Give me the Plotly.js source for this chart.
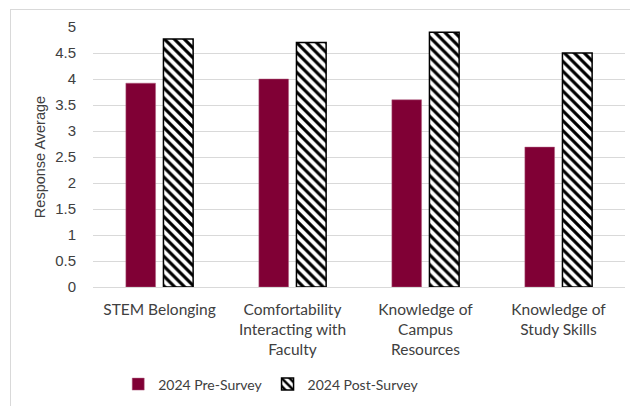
<!DOCTYPE html>
<html>
<head>
<meta charset="utf-8">
<script src="https://cdn.plot.ly/plotly-3.0.1.min.js"></script>
<style>
  html, body { margin: 0; padding: 0; background: #ffffff; overflow: hidden; }
  #frame { position: absolute; left: 10px; top: 9px; width: 700px; height: 500px; border: 1px solid #d9d9d9; }
  #chart { position: absolute; left: 0; top: 0; width: 630px; height: 406px; }
</style>
</head>
<body>
<div id="frame"></div>
<div id="chart"></div>
<script>
const categories = [
  "STEM Belonging",
  "Comfortability<br>Interacting with<br>Faculty",
  "Knowledge of<br>Campus<br>Resources",
  "Knowledge of<br>Study Skills"
];
const preSurvey = [3.92, 4.0, 3.6, 2.69];
const postSurvey = [4.77, 4.7, 4.9, 4.5];
const yTicks = [0, 0.5, 1, 1.5, 2, 2.5, 3, 3.5, 4, 4.5, 5];

const traces = [
  {
    type: "bar", name: "2024 Pre-Survey", x: categories, y: preSurvey,
    marker: { color: "#800035", line: { color: "#b06080", width: 0.5 } },
    hoverinfo: "y"
  },
  {
    type: "bar", name: "2024 Post-Survey", x: categories, y: postSurvey,
    marker: {
      color: "#ffffff",
      line: { color: "#000000", width: 1.5 },
      pattern: { shape: "\\", fgcolor: "#000000", bgcolor: "#ffffff", size: 7, solidity: 0.45 }
    },
    hoverinfo: "y"
  }
];

const layout = {
  width: 630, height: 406,
  margin: { l: 93, r: 5, t: 27, b: 116 },
  paper_bgcolor: "rgba(0,0,0,0)",
  plot_bgcolor: "rgba(0,0,0,0)",
  barmode: "group",
  bargap: 0.435,
  bargroupgap: 0.21,
  showlegend: true,
  legend: {
    orientation: "h", x: 0.335, xanchor: "center", y: -0.375, yanchor: "middle",
    font: { family: "Lato, sans-serif", size: 14, color: "#404040" },
    traceorder: "normal", itemwidth: 30
  },
  xaxis: {
    type: "category",
    tickfont: { family: "Lato, sans-serif", size: 15.5, color: "#404040" },
    showgrid: false, zeroline: false, showline: false, ticks: "",
    ticklabelstandoff: 11,
    automargin: false
  },
  yaxis: {
    range: [0, 5], tickvals: yTicks, ticktext: yTicks.map(String),
    tickfont: { family: "Liberation Sans, Arial, sans-serif", size: 15, color: "#404040" },
    showgrid: true, gridcolor: "#d9d9d9", gridwidth: 1,
    zeroline: true, zerolinecolor: "#d9d9d9", zerolinewidth: 1,
    showline: false, ticks: "", ticklabelstandoff: 16,
    title: { text: "Response Average", font: { family: "Liberation Sans, Arial, sans-serif", size: 14.5, color: "#404040" }, standoff: 6 },
    automargin: false
  }
};

Plotly.newPlot("chart", traces, layout, { displayModeBar: false, staticPlot: true });
</script>
</body>
</html>
